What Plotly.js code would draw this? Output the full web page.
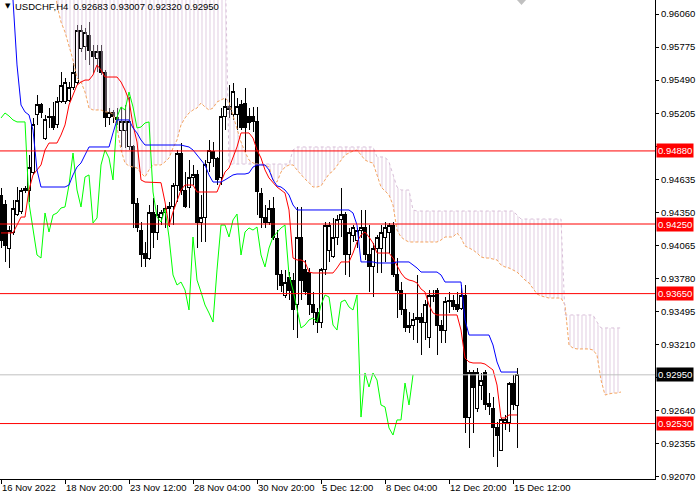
<!DOCTYPE html>
<html><head><meta charset="utf-8">
<script src="https://cdn.plot.ly/plotly-3.0.1.min.js"></script>
<style>html,body{margin:0;padding:0;background:#fff}#chart{width:700px;height:500px}
.boxlayer path{shape-rendering:crispEdges}</style>
</head><body><div id="chart"></div>
<script>
const symbol = 'USDCHF,H4';
const openP = [0.94500,0.94414,0.94043,0.94181,0.94336,0.94354,0.94552,0.94543,0.94698,0.95190,
0.95276,0.94991,0.95164,0.95173,0.95104,0.95302,0.95302,0.95319,0.95431,0.95474,
0.95767,0.95776,0.95879,0.95733,0.95681,0.95733,0.95560,0.95164,0.95207,0.95164,
0.95060,0.95060,0.94914,0.94914,0.94431,0.94198,0.94000,0.93957,0.94345,0.94181,
0.94302,0.94345,0.94388,0.94397,0.94586,0.94862,0.94543,0.94569,0.94655,0.94673,
0.94259,0.94302,0.94776,0.94871,0.94819,0.94647,0.95173,0.95259,0.95190,0.95190,
0.95276,0.95293,0.95173,0.95173,0.95130,0.94517,0.94310,0.94267,0.94388,0.94129,
0.93811,0.93630,0.93785,0.93767,0.93552,0.94138,0.93854,0.93836,0.93552,0.93483,
0.93405,0.93854,0.94026,0.93966,0.94138,0.94285,0.94328,0.93983,0.94155,0.94112,
0.94198,0.94216,0.93983,0.93880,0.94043,0.94043,0.94138,0.94181,0.94241,0.93811,
0.93681,0.93509,0.93354,0.93379,0.93423,0.93440,0.93405,0.93276,0.93638,0.93681,
0.93379,0.93336,0.93578,0.93595,0.93552,0.93526,0.93638,0.92578,0.92966,0.92664,
0.92862,0.92966,0.92707,0.92664,0.92500,0.92302,0.92535,0.92535,0.92879,0.92683];
const highP = [0.94560,0.94457,0.94233,0.94457,0.94569,0.94560,0.94578,0.94845,0.95164,0.95362,
0.95293,0.95190,0.95250,0.95302,0.95345,0.95560,0.95509,0.95474,0.95638,0.95966,
0.95966,0.95940,0.95991,0.95793,0.95793,0.95793,0.95578,0.95250,0.95233,0.95250,
0.95259,0.95276,0.95345,0.94931,0.94474,0.94267,0.94095,0.94414,0.94474,0.94414,
0.94371,0.94414,0.94440,0.94606,0.94888,0.94948,0.94698,0.94802,0.94759,0.94716,
0.94500,0.94802,0.94974,0.94957,0.94828,0.95250,0.95336,0.95448,0.95466,0.95336,
0.95319,0.95422,0.95250,0.95259,0.95259,0.94560,0.94414,0.94457,0.94483,0.94198,
0.93854,0.93854,0.93836,0.93828,0.94397,0.94397,0.93940,0.93871,0.93664,0.93526,
0.93871,0.94267,0.94267,0.94302,0.94328,0.94560,0.94354,0.94216,0.94241,0.94216,
0.94371,0.94371,0.94241,0.94086,0.94155,0.94241,0.94267,0.94259,0.94267,0.93957,
0.93750,0.93655,0.93492,0.93483,0.93811,0.93483,0.93595,0.93681,0.93681,0.93698,
0.93423,0.93621,0.93664,0.93638,0.93664,0.93724,0.93724,0.92992,0.92992,0.93009,
0.92966,0.92992,0.92793,0.92759,0.92543,0.92578,0.92604,0.92888,0.92949,0.93007];
const lowP = [0.94043,0.93923,0.93871,0.94155,0.94319,0.94336,0.94517,0.94440,0.94673,0.95104,
0.95164,0.94974,0.95078,0.95060,0.95078,0.95293,0.95285,0.95302,0.95405,0.95448,
0.95733,0.95664,0.95621,0.95552,0.95560,0.95535,0.95086,0.95104,0.95121,0.95104,
0.94914,0.94905,0.94888,0.94216,0.94181,0.93880,0.93880,0.93940,0.94043,0.94112,
0.94241,0.94216,0.94224,0.94241,0.94440,0.94500,0.94388,0.94388,0.94586,0.94043,
0.94095,0.94095,0.94698,0.94741,0.94586,0.94586,0.95060,0.95164,0.95147,0.95060,
0.95060,0.94871,0.95060,0.95043,0.94328,0.94216,0.94216,0.94241,0.94112,0.93681,
0.93664,0.93612,0.93595,0.93336,0.93267,0.93595,0.93638,0.93466,0.93379,0.93310,
0.93354,0.93811,0.93923,0.93957,0.94069,0.94138,0.93811,0.93793,0.94095,0.94043,
0.94129,0.93940,0.93664,0.93621,0.93828,0.93828,0.93923,0.94000,0.93793,0.93440,
0.93466,0.93319,0.93310,0.93250,0.93224,0.93120,0.93250,0.93181,0.93578,0.93120,
0.93224,0.93224,0.93483,0.93509,0.93492,0.93509,0.92449,0.92319,0.92449,0.92630,
0.92732,0.92647,0.92604,0.92242,0.92155,0.92290,0.92475,0.92457,0.92647,0.92320];
const closeP = [0.94112,0.94061,0.94198,0.94388,0.94457,0.94543,0.94543,0.94733,0.95104,0.95276,
0.95207,0.95147,0.95173,0.95078,0.95302,0.95448,0.95474,0.95431,0.95560,0.95922,
0.95922,0.95897,0.95750,0.95690,0.95733,0.95560,0.95164,0.95207,0.95181,0.95147,
0.95130,0.95130,0.95130,0.94431,0.94216,0.93983,0.93957,0.94345,0.94181,0.94328,
0.94345,0.94388,0.94397,0.94586,0.94862,0.94543,0.94397,0.94655,0.94673,0.94259,
0.94302,0.94759,0.94888,0.94819,0.94630,0.95173,0.95259,0.95233,0.95388,0.95259,
0.95078,0.95086,0.95121,0.95130,0.94526,0.94310,0.94267,0.94380,0.94138,0.93811,
0.93724,0.93750,0.93681,0.93509,0.94138,0.93767,0.93664,0.93552,0.93483,0.93405,
0.93854,0.94241,0.94241,0.94138,0.94285,0.94336,0.93983,0.94181,0.94216,0.94198,
0.94224,0.93983,0.93880,0.94043,0.94138,0.94181,0.94216,0.94241,0.93811,0.93681,
0.93509,0.93354,0.93379,0.93423,0.93440,0.93405,0.93552,0.93638,0.93621,0.93379,
0.93336,0.93578,0.93595,0.93535,0.93509,0.93638,0.92586,0.92966,0.92845,0.92966,
0.92905,0.92690,0.92673,0.92492,0.92431,0.92561,0.92561,0.92879,0.92690,0.92950];
const tenkan = [0.94173,0.94173,0.94173,0.94173,0.94241,0.94310,0.94310,0.94543,0.94673,0.94716,
0.94759,0.94888,0.94948,0.94948,0.94948,0.95017,0.95104,0.95276,0.95362,0.95448,
0.95474,0.95491,0.95491,0.95535,0.95621,0.95578,0.95517,0.95517,0.95517,0.95517,
0.95474,0.95405,0.95319,0.95104,0.94957,0.94630,0.94612,0.94612,0.94612,0.94612,
0.94606,0.94440,0.94233,0.94354,0.94457,0.94543,0.94586,0.94586,0.94586,0.94526,
0.94526,0.94526,0.94526,0.94526,0.94526,0.94612,0.94698,0.94733,0.94828,0.94914,
0.95035,0.95035,0.95035,0.94991,0.94888,0.94819,0.94716,0.94647,0.94606,0.94569,
0.94543,0.94517,0.94371,0.93957,0.93940,0.93940,0.93923,0.93836,0.93828,0.93828,
0.93828,0.93828,0.93828,0.93828,0.93871,0.93923,0.93923,0.93923,0.94000,0.94095,
0.94155,0.94181,0.94138,0.94086,0.94000,0.94000,0.94000,0.94000,0.93957,0.93897,
0.93828,0.93785,0.93767,0.93759,0.93742,0.93690,0.93664,0.93552,0.93483,0.93466,
0.93466,0.93466,0.93466,0.93466,0.93466,0.93336,0.93095,0.93061,0.93052,0.93052,
0.93052,0.93043,0.93018,0.92992,0.92862,0.92578,0.92578,0.92604,0.92604,0.92604];
const kijun = [0.96720,0.96720,0.96720,0.96181,0.95621,0.95276,0.95216,0.95190,0.95060,0.94716,
0.94569,0.94569,0.94569,0.94569,0.94569,0.94569,0.94569,0.94586,0.94673,0.94741,
0.94776,0.94845,0.94914,0.94914,0.94914,0.94914,0.94914,0.94914,0.95035,0.95147,
0.95147,0.95147,0.95147,0.95078,0.95035,0.94974,0.94931,0.94931,0.94931,0.94931,
0.94931,0.94931,0.94931,0.94931,0.94931,0.94931,0.94922,0.94914,0.94888,0.94845,
0.94802,0.94759,0.94673,0.94612,0.94612,0.94612,0.94630,0.94655,0.94673,0.94681,
0.94681,0.94681,0.94690,0.94741,0.94759,0.94759,0.94759,0.94716,0.94630,0.94578,
0.94569,0.94543,0.94500,0.94414,0.94371,0.94371,0.94371,0.94371,0.94371,0.94371,
0.94371,0.94371,0.94371,0.94371,0.94371,0.94371,0.94371,0.94371,0.94345,0.94241,
0.93923,0.93923,0.93923,0.93923,0.93914,0.93914,0.93914,0.93914,0.93914,0.93923,
0.93923,0.93923,0.93923,0.93897,0.93871,0.93836,0.93836,0.93836,0.93836,0.93836,
0.93811,0.93750,0.93750,0.93750,0.93750,0.93750,0.93423,0.93293,0.93293,0.93293,
0.93293,0.93293,0.93293,0.93207,0.93061,0.92974,0.92974,0.92974,0.92974,0.92974];
const spanA = [0.96500,0.96500,0.96500,0.96500,0.96500,0.96500,0.96500,0.96500,0.96500,0.96500,
0.96500,0.96500,0.96500,0.96500,0.96138,0.95991,0.95905,0.95793,0.95664,0.95509,
0.95474,0.95388,0.95250,0.95233,0.95233,0.95233,0.95216,0.95216,0.95198,0.95078,
0.94888,0.94776,0.94750,0.94741,0.94733,0.94690,0.94655,0.94716,0.94759,0.94759,
0.94759,0.94785,0.94819,0.94905,0.94974,0.95104,0.95164,0.95207,0.95233,0.95250,
0.95293,0.95259,0.95233,0.95250,0.95302,0.95319,0.95336,0.95302,0.95190,0.95060,
0.94957,0.94871,0.94802,0.94776,0.94767,0.94759,0.94759,0.94741,0.94630,0.94612,
0.94698,0.94741,0.94759,0.94759,0.94716,0.94673,0.94638,0.94606,0.94569,0.94569,
0.94578,0.94630,0.94681,0.94707,0.94750,0.94802,0.94845,0.94862,0.94879,0.94888,
0.94845,0.94802,0.94785,0.94776,0.94673,0.94569,0.94535,0.94500,0.94414,0.94198,
0.94138,0.94112,0.94095,0.94095,0.94095,0.94095,0.94095,0.94095,0.94095,0.94095,
0.94112,0.94138,0.94138,0.94138,0.94173,0.94129,0.94061,0.94043,0.94026,0.94000,
0.93966,0.93957,0.93957,0.93948,0.93940,0.93897,0.93880,0.93871,0.93854,0.93836,
0.93802,0.93767,0.93742,0.93690,0.93647,0.93630,0.93621,0.93612,0.93612,0.93612,
0.93612,0.93552,0.93207,0.93181,0.93173,0.93173,0.93173,0.93173,0.93164,0.93120,
0.92905,0.92776,0.92785,0.92793,0.92793,0.92802];
const spanB = [0.96600,0.96600,0.96600,0.96600,0.96600,0.96600,0.96600,0.96600,0.96600,0.96600,
0.96600,0.96600,0.96600,0.96600,0.96600,0.96600,0.96600,0.96600,0.96600,0.96600,
0.96600,0.96600,0.96600,0.96600,0.96600,0.96600,0.96600,0.96600,0.96600,0.96600,
0.96600,0.96600,0.96600,0.96600,0.96600,0.96600,0.96600,0.96600,0.96600,0.96600,
0.96600,0.96600,0.96600,0.96600,0.96600,0.96600,0.96600,0.96600,0.96600,0.96600,
0.96600,0.96600,0.96600,0.96600,0.96600,0.96600,0.96600,0.94767,0.94767,0.94767,
0.94767,0.94767,0.94767,0.94767,0.94767,0.94767,0.94767,0.94767,0.94767,0.94767,
0.94767,0.94767,0.94767,0.94888,0.94914,0.94914,0.94914,0.94914,0.94914,0.94914,
0.94914,0.94914,0.94914,0.94914,0.94914,0.94914,0.94914,0.94914,0.94914,0.94914,
0.94914,0.94914,0.94914,0.94914,0.94828,0.94828,0.94828,0.94785,0.94673,0.94569,
0.94543,0.94543,0.94543,0.94371,0.94362,0.94362,0.94362,0.94362,0.94362,0.94362,
0.94362,0.94362,0.94362,0.94362,0.94362,0.94362,0.94362,0.94362,0.94362,0.94362,
0.94362,0.94362,0.94362,0.94362,0.94362,0.94362,0.94362,0.94362,0.94362,0.94328,
0.94293,0.94293,0.94293,0.94293,0.94293,0.94293,0.94293,0.94293,0.94293,0.94293,
0.94293,0.93466,0.93466,0.93466,0.93466,0.93466,0.93466,0.93466,0.93466,0.93405,
0.93354,0.93354,0.93354,0.93354,0.93354,0.93354];
const chikouShift = 26;
const levelLines = [0.94880, 0.94250, 0.93650, 0.92530];
const lastPrice = 0.92950;
const yTicks = [0.92070,0.92355,0.92640,0.92925,0.93210,0.93495,0.93780,0.94065,0.94350,0.94635,0.94920,0.95205,0.95490,0.95775,0.96060];
const yTicksHidden = [0.92925, 0.94920];
const xTickBars = [0,16,32,48,64,80,96,112,128];
const xTickLabels = ['16 Nov 2022','18 Nov 20:00','23 Nov 12:00','28 Nov 04:00','30 Nov 20:00','5 Dec 12:00','8 Dec 04:00','12 Dec 20:00','15 Dec 12:00'];

const barIdx = openP.map((_, i) => i);
const spanIdx = spanA.map((_, i) => i);
const chikouY = closeP.slice(chikouShift);
const chikouX = chikouY.map((_, i) => i);

const FONT = 'Liberation Sans, Arial, sans-serif';
const fmt = v => v.toFixed(5);
const traces = [
  {type:'scatter', mode:'lines', x:spanIdx, y:spanA, line:{color:'#F4A460', width:1, dash:'3px,2px'}, hoverinfo:'skip'},
  {type:'scatter', mode:'lines', x:spanIdx, y:spanB, fill:'tonexty', fillcolor:'rgba(0,0,0,0)',
   fillpattern:{shape:'|', fgcolor:'#D8BFD8', fgopacity:0.8, bgcolor:'rgba(255,255,255,0)', size:4, solidity:0.25},
   line:{color:'#D8BFD8', width:1, dash:'dot'}, hoverinfo:'skip'},
  {type:'candlestick', x:barIdx, open:openP, high:highP, low:lowP, close:closeP,
   increasing:{line:{color:'#000000', width:1}, fillcolor:'#FFFFFF'},
   decreasing:{line:{color:'#000000', width:1}, fillcolor:'#000000'},
   whiskerwidth:0, hoverinfo:'skip'},
  {type:'scatter', mode:'lines', x:chikouX, y:chikouY, line:{color:'#00FF00', width:1}, hoverinfo:'skip'},
  {type:'scatter', mode:'lines', x:barIdx, y:tenkan, line:{color:'#FF0000', width:1}, hoverinfo:'skip'},
  {type:'scatter', mode:'lines', x:barIdx, y:kijun, line:{color:'#0000FF', width:1}, hoverinfo:'skip'}
];

const shapes = levelLines.map(v => ({type:'line', xref:'paper', x0:0, x1:1, yref:'y', y0:v, y1:v, line:{color:'#FF0000', width:1}}));
shapes.push({type:'line', xref:'paper', x0:0, x1:1, yref:'y', y0:lastPrice, y1:lastPrice, line:{color:'#C0C0C0', width:1}});
shapes.push({type:'path', xref:'paper', yref:'paper', path:'M 0.7893,1 L 0.8031,1 L 0.7962,0.9896 Z', fillcolor:'#C0C0C0', line:{width:0}});

const annotations = levelLines.map(v => ({xref:'paper', x:1, xanchor:'left', xshift:1, yref:'y', y:v, yanchor:'middle',
  text:fmt(v), showarrow:false, bgcolor:'#FF0000', borderpad:1, font:{family:FONT, size:9.5, color:'#FFFFFF'}}));
annotations.push({xref:'paper', x:1, xanchor:'left', xshift:1, yref:'y', y:lastPrice, yanchor:'middle',
  text:fmt(lastPrice), showarrow:false, bgcolor:'#000000', borderpad:1, font:{family:FONT, size:9.5, color:'#FFFFFF'}});
const n = closeP.length - 1;
annotations.push({xref:'paper', yref:'paper', x:0, y:1, xanchor:'left', yanchor:'top', xshift:3, yshift:0, showarrow:false,
  text:'\u25BC', font:{family:'DejaVu Sans', size:7, color:'#000000'}});
annotations.push({xref:'paper', yref:'paper', x:0, y:1, xanchor:'left', yanchor:'top', xshift:13, yshift:1, showarrow:false,
  text: symbol + '\u00A0\u00A0' + [openP[n], highP[n], lowP[n], closeP[n]].map(fmt).join(' '),
  font:{family:FONT, size:9.5, color:'#000000'}});

const layout = {
  width:700, height:500, margin:{l:0, r:45, t:0, b:21},
  paper_bgcolor:'#FFFFFF', plot_bgcolor:'#FFFFFF', showlegend:false, hovermode:false,
  boxgap:0.25,
  xaxis:{range:[-0.25, 163.5], tickvals:xTickBars, ticktext:xTickLabels, tickangle:0, ticks:'outside', ticklen:4, tickcolor:'#000',
    showline:true, linecolor:'#000', linewidth:1, showgrid:false, zeroline:false, ticklabelposition:'outside right',
    tickfont:{family:FONT, size:9.5, color:'#000'}, rangeslider:{visible:false}, fixedrange:true},
  yaxis:{side:'right', range:[0.92052, 0.96181], tickvals:yTicks,
    ticktext:yTicks.map(v => yTicksHidden.includes(v) ? '' : fmt(v)), ticks:'outside', ticklen:3, tickcolor:'#000',
    showline:true, linecolor:'#000', linewidth:1, showgrid:false, zeroline:false,
    tickfont:{family:FONT, size:9.5, color:'#000'}, fixedrange:true},
  shapes:shapes, annotations:annotations
};
Plotly.newPlot('chart', traces, layout, {staticPlot:true, displayModeBar:false});
</script></body></html>
